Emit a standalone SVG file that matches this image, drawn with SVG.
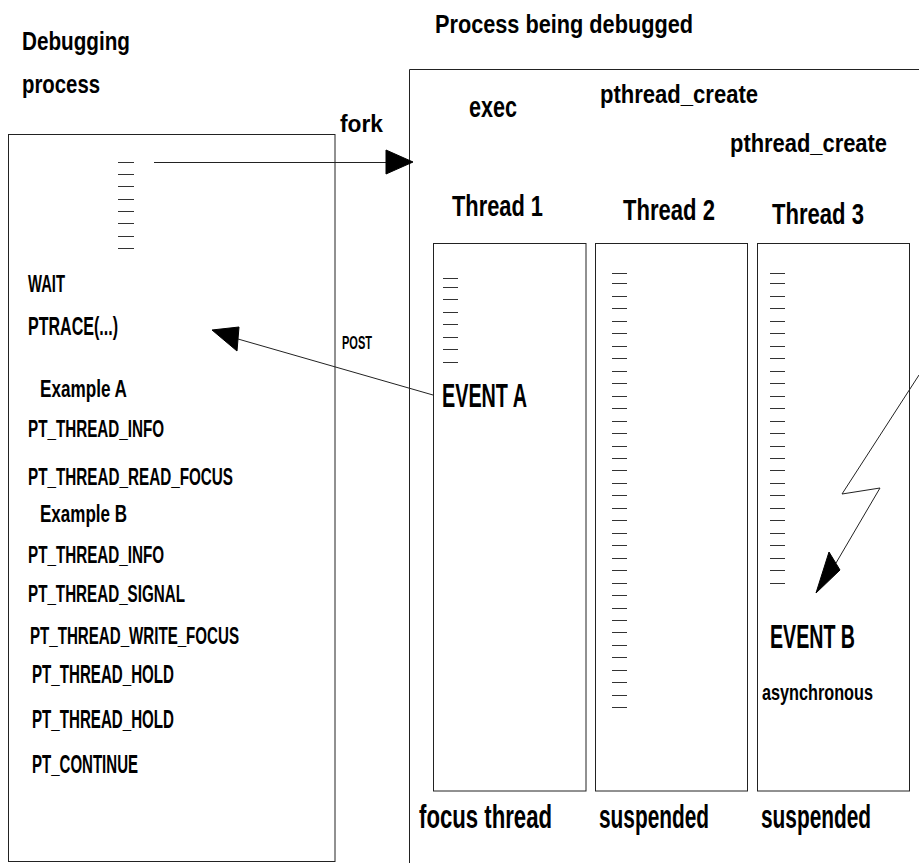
<svg xmlns="http://www.w3.org/2000/svg" xmlns:xlink="http://www.w3.org/1999/xlink" width="919" height="863" viewBox="0 0 919 863">
  <style>
    .frame { fill: none; stroke: #222; stroke-width: 1; }
    .tick { fill: none; stroke: #333; stroke-width: 1; }
    .wire { fill: none; stroke: #222; stroke-width: 1; }
    .head { fill: #000; stroke: #000; stroke-width: 1; stroke-linejoin: round; }
    text { font-family: "Liberation Sans", Arial, sans-serif; font-weight: bold; fill: #000; }
  </style>
  <defs>
    <!-- column of 26 short tick marks, drawn at x = 0..15 -->
    <path id="tickcol" class="tick" d="M0 273.5h15M0 283.5h15M0 296.5h15M0 308.5h15M0 321.5h15M0 333.5h15M0 346.5h15M0 358.5h15M0 371.5h15M0 383.5h15M0 396.5h15M0 408.5h15M0 421.5h15M0 433.5h15M0 446.5h15M0 458.5h15M0 470.5h15M0 483.5h15M0 495.5h15M0 508.5h15M0 520.5h15M0 533.5h15M0 545.5h15M0 558.5h15M0 570.5h15M0 583.5h15"/>
  </defs>

  <rect width="919" height="863" fill="#fff"/>

  <!-- debugging process -->
  <g id="debugger">
    <text x="22" y="50" font-size="25" textLength="108" lengthAdjust="spacingAndGlyphs">Debugging</text>
    <text x="22" y="93" font-size="25" textLength="78" lengthAdjust="spacingAndGlyphs">process</text>
    <rect class="frame" x="8.5" y="134.5" width="326.5" height="727"/>
    <path class="tick" d="M118 162.5h16M118 174.5h16M118 186.5h16M118 199.5h16M118 211.5h16M118 223.5h16M118 236.5h16M118 248.5h16"/>
    <text x="28" y="292" font-size="23" textLength="37" lengthAdjust="spacingAndGlyphs">WAIT</text>
    <text x="28" y="335" font-size="25" textLength="90" lengthAdjust="spacingAndGlyphs">PTRACE(...)</text>
    <text x="40" y="397" font-size="23" textLength="87" lengthAdjust="spacingAndGlyphs">Example A</text>
    <text x="28" y="437" font-size="24" textLength="136" lengthAdjust="spacingAndGlyphs">PT_THREAD_INFO</text>
    <text x="28" y="485" font-size="24" textLength="205" lengthAdjust="spacingAndGlyphs">PT_THREAD_READ_FOCUS</text>
    <text x="40" y="522" font-size="23" textLength="87" lengthAdjust="spacingAndGlyphs">Example B</text>
    <text x="28" y="563" font-size="24" textLength="136" lengthAdjust="spacingAndGlyphs">PT_THREAD_INFO</text>
    <text x="28" y="602" font-size="24" textLength="157" lengthAdjust="spacingAndGlyphs">PT_THREAD_SIGNAL</text>
    <text x="30" y="644" font-size="24" textLength="209" lengthAdjust="spacingAndGlyphs">PT_THREAD_WRITE_FOCUS</text>
    <text x="32" y="683" font-size="25" textLength="142" lengthAdjust="spacingAndGlyphs">PT_THREAD_HOLD</text>
    <text x="32" y="728" font-size="25" textLength="142" lengthAdjust="spacingAndGlyphs">PT_THREAD_HOLD</text>
    <text x="32" y="773" font-size="25" textLength="106" lengthAdjust="spacingAndGlyphs">PT_CONTINUE</text>
  </g>

  <!-- process being debugged -->
  <g id="debuggee">
    <text x="435" y="33" font-size="25" textLength="258" lengthAdjust="spacingAndGlyphs">Process being debugged</text>
    <path class="frame" d="M919 69.5H409.5V863"/>
    <text x="469" y="117" font-size="29" textLength="48" lengthAdjust="spacingAndGlyphs">exec</text>
    <text x="600" y="103" font-size="25" textLength="158" lengthAdjust="spacingAndGlyphs">pthread_create</text>
    <text x="730" y="152" font-size="25" textLength="157" lengthAdjust="spacingAndGlyphs">pthread_create</text>
  </g>

  <g id="thread1">
    <text x="452" y="216" font-size="30" textLength="91" lengthAdjust="spacingAndGlyphs">Thread 1</text>
    <rect class="frame" x="433.5" y="243.5" width="152.5" height="547.5"/>
    <path class="tick" d="M443 278.5h15M443 287.5h15M443 299.5h15M443 312.5h15M443 324.5h15M443 337.5h15M443 349.5h15M443 362.5h15"/>
    <text x="442" y="407" font-size="33" textLength="85" lengthAdjust="spacingAndGlyphs">EVENT A</text>
    <text transform="matrix(0.672 0 0 1 419 828)" font-size="33">focus thread</text>
  </g>

  <g id="thread2">
    <text x="623" y="220" font-size="30" textLength="92" lengthAdjust="spacingAndGlyphs">Thread 2</text>
    <rect class="frame" x="595.5" y="243.5" width="152" height="547.5"/>
    <use xlink:href="#tickcol" href="#tickcol" x="612"/>
    <path class="tick" d="M612 595.5h15M612 608.5h15M612 620.5h15M612 632.5h15M612 645.5h15M612 657.5h15M612 670.5h15M612 682.5h15M612 695.5h15M612 707.5h15"/>
    <text transform="matrix(0.632 0 0 1 599 828)" font-size="33">suspended</text>
  </g>

  <g id="thread3">
    <text x="772" y="224" font-size="30" textLength="92" lengthAdjust="spacingAndGlyphs">Thread 3</text>
    <rect class="frame" x="757.5" y="243.5" width="152" height="547.5"/>
    <use xlink:href="#tickcol" href="#tickcol" x="770"/>
    <text x="770" y="648" font-size="33" textLength="85" lengthAdjust="spacingAndGlyphs">EVENT B</text>
    <text x="762" y="700" font-size="22" textLength="111" lengthAdjust="spacingAndGlyphs">asynchronous</text>
    <text transform="matrix(0.632 0 0 1 761 828)" font-size="33">suspended</text>
  </g>

  <!-- connectors -->
  <g id="connectors">
    <!-- fork -->
    <path class="wire" d="M154 162.5H388"/>
    <polygon class="head" points="386,150 413,162 386,174"/>
    <text x="340" y="132" font-size="24" textLength="43" lengthAdjust="spacingAndGlyphs">fork</text>
    <!-- post back to the debugger -->
    <path class="wire" d="M433 395L238 339"/>
    <polygon class="head" points="212,330 239,327 237,351"/>
    <text x="342" y="349" font-size="19" textLength="30" lengthAdjust="spacingAndGlyphs">POST</text>
    <!-- asynchronous signal -->
    <polyline class="wire" stroke="#444" points="919,375 842,494 880,488 836,563"/>
    <polygon class="head" points="816,593 829,552 840,570"/>
  </g>
</svg>
